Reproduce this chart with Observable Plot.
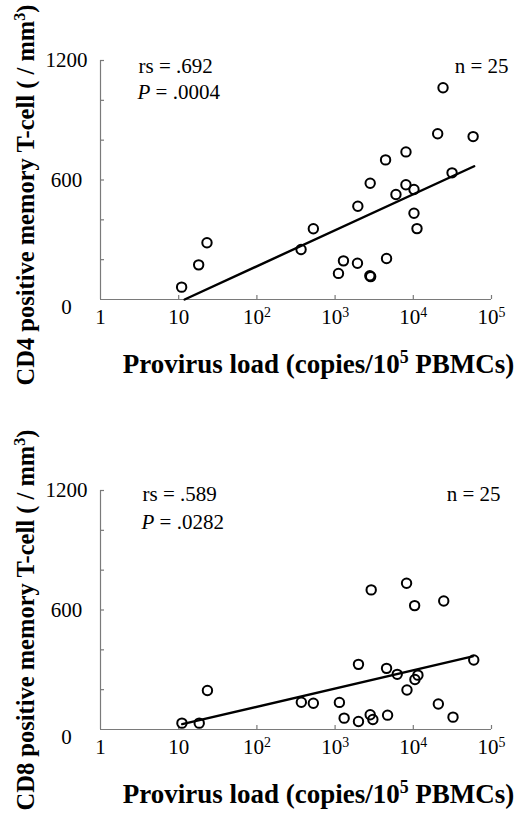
<!DOCTYPE html>
<html><head><meta charset="utf-8">
<script src="https://cdn.jsdelivr.net/npm/d3@7"></script>
<script src="https://cdn.jsdelivr.net/npm/@observablehq/plot@0.6"></script>
<style>
html,body{margin:0;padding:0;background:#fff;}
#chart{width:520px;}
#chart svg{display:block;}
</style></head><body><div id="chart"></div>
<script>
// ---- data ----
const xTicks = [1, 10, 100, 1000, 10000, 100000];
const xTickLabels = ["1", "10", "10^2", "10^3", "10^4", "10^5"];
const yLabelTicks = [600, 1200];
const yZeroTick = [0];
const yMinorTicks = [200, 400, 600, 800, 1000, 1200];

const cd4X = [10.9, 18, 23, 367, 527, 1104, 1279, 1932, 1953, 2780, 2850, 2810, 4420, 4550, 6000, 8060, 8050, 10200, 10200, 11150, 20500, 24000, 31300, 58200];
const cd4Y = [62, 174, 285, 251, 355, 131, 194, 182, 468, 119, 115, 584, 701, 206, 527, 741, 576, 552, 433, 356, 832, 1063, 636, 818];
const cd4FitX = [11.9, 60000];
const cd4FitY = [0, 669];

const cd8X = [11, 18.3, 23.3, 370, 527, 1135, 1305, 1990, 1990, 2810, 3040, 2895, 4550, 4690, 6230, 8200, 8300, 10400, 10490, 11460, 20900, 24500, 32200, 59300];
const cd8Y = [32, 32, 196, 137, 132, 136, 57, 327, 40, 74, 50, 701, 307, 72, 277, 734, 198, 622, 251, 273, 128, 645, 62, 349];
const cd8FitX = [11.1, 57500];
const cd8FitY = [27, 367];

const xTitle = "Provirus load (copies/10^5 PBMCs)";
const cd4Title = "CD4 positive memory T-cell ( / mm^3)";
const cd8Title = "CD8 positive memory T-cell ( / mm^3)";
const cd4Stats = ["rs = .692", "P = .0004", "n = 25"];
const cd8Stats = ["rs = .589", "P = .0282", "n = 25"];

const AX = "#7a7a7a";
const FONT = "'Liberation Serif', 'Times New Roman', serif";

function panel({xs, ys, fitX, fitY, yTitle, stats, height, marginBottom, yTitleDy, statDx, statDy, nDx}) {
  const data = xs.map((x, i) => ({x, y: ys[i]}));
  const fit = fitX.map((x, i) => ({x, y: fitY[i]}));
  return Plot.plot({
    width: 520, height,
    marginTop: 60, marginBottom, marginLeft: 100, marginRight: 29,
    style: {fontFamily: FONT, fontSize: "20px", color: "#000", background: "#fff", overflow: "visible"},
    x: {type: "log", domain: [1, 1e5]},
    y: {domain: [0, 1200]},
    marks: [
      Plot.ruleY([0], {stroke: AX, strokeWidth: 1.2}),
      Plot.ruleX([1], {stroke: AX, strokeWidth: 1.2}),
      Plot.tickX(xTicks.slice(1), {x: d => d, insetTop: 235, stroke: AX, strokeWidth: 1.2}),
      Plot.tickY(yMinorTicks, {y: d => d, insetRight: 387, stroke: AX, strokeWidth: 1.2}),
      Plot.axisX({ticks: xTicks, tickSize: 0, tickPadding: 10, fontSize: 21, label: null,
        tickFormat: d => xTickLabels[xTicks.indexOf(d)]}),
      Plot.axisY({ticks: yLabelTicks, tickSize: 0, tickPadding: 34, textAnchor: "middle", fontSize: 21, label: null,
        tickFormat: d => String(d)}),
      Plot.axisY({ticks: yZeroTick, tickSize: 0, tickPadding: 34, textAnchor: "middle", fontSize: 21, label: null, dy: 8,
        tickFormat: d => String(d)}),
      Plot.line(fit, {x: "x", y: "y", stroke: "#000", strokeWidth: 2.4}),
      Plot.dot(data, {x: "x", y: "y", r: 4.7, stroke: "#000", strokeWidth: 2, fill: "none"}),
      Plot.text([stats[0]], {text: d => d, frameAnchor: "top-left", dx: statDx, dy: statDy, lineAnchor: "bottom", textAnchor: "start", fontSize: 21}),
      Plot.text([stats[1]], {text: d => d, frameAnchor: "top-left", dx: statDx - 1, dy: 38, lineAnchor: "bottom", textAnchor: "start", fontSize: 21}),
      Plot.text([stats[2]], {text: d => d, frameAnchor: "top-right", dx: nDx, dy: statDy, lineAnchor: "bottom", textAnchor: "end", fontSize: 21}),
      Plot.text([xTitle], {text: d => d, frameAnchor: "bottom", dx: 22.5, dy: 73, lineAnchor: "bottom", textAnchor: "middle", fontSize: 27, fontWeight: "bold"}),
      Plot.text([yTitle], {text: d => d, frameAnchor: "left", rotate: -90, dx: -67, dy: yTitleDy, lineAnchor: "bottom", textAnchor: "middle", fontSize: 24.5, fontWeight: "bold"})
    ]
  });
}

function rebuild(el, segs, fs) {
  while (el.firstChild) el.removeChild(el.firstChild);
  let shift = 0;
  for (const sg of segs) {
    const t = document.createElementNS("http://www.w3.org/2000/svg", "tspan");
    t.textContent = sg.t;
    const target = sg.sup ? -0.36 * fs : 0;
    if (target !== shift) { t.setAttribute("dy", (target - shift).toFixed(2)); shift = target; }
    if (sg.sup) t.setAttribute("font-size", (0.66 * fs).toFixed(2));
    if (sg.it) t.setAttribute("font-style", "italic");
    el.appendChild(t);
  }
}

function enhance(svg) {
  d3.select(svg).selectAll("text").each(function() {
    const el = this;
    const s = el.textContent;
    const fs = parseFloat(getComputedStyle(el).fontSize) || 20;
    if (s.includes("^")) {
      const segs = [];
      const re = /\^(.)/g;
      let last = 0, m;
      while ((m = re.exec(s))) {
        if (m.index > last) segs.push({t: s.slice(last, m.index)});
        segs.push({t: m[1], sup: true});
        last = m.index + m[0].length;
      }
      if (last < s.length) segs.push({t: s.slice(last)});
      rebuild(el, segs, fs);
    } else if (s.startsWith("P = ")) {
      rebuild(el, [{t: "P", it: true}, {t: s.slice(1)}], fs);
    }
  });
}

const root = document.getElementById("chart");
const topPanel = panel({xs: cd4X, ys: cd4Y, fitX: cd4FitX, fitY: cd4FitY, yTitle: cd4Title, stats: cd4Stats,
  height: 430, marginBottom: 131, yTitleDy: 15, statDx: 38, statDy: 12, nDx: 17});
const bottomPanel = panel({xs: cd8X, ys: cd8Y, fitX: cd8FitX, fitY: cd8FitY, yTitle: cd8Title, stats: cd8Stats,
  height: 391, marginBottom: 92, yTitleDy: 10, statDx: 42, statDy: 10, nDx: 9});
root.appendChild(topPanel);
root.appendChild(bottomPanel);
enhance(topPanel);
enhance(bottomPanel);
</script></body></html>
